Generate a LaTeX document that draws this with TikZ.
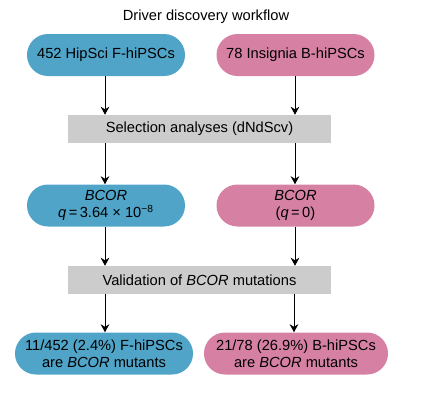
\documentclass[tikz,border=0pt]{standalone}
\usepackage{fontspec}
\setmainfont{Liberation Sans}
\usetikzlibrary{arrows.meta}
\definecolor{fblue}{HTML}{4FA4C8}
\definecolor{bpink}{HTML}{D681A4}
\definecolor{gbox}{HTML}{CCCCCC}
\begin{document}
\begin{tikzpicture}[x=0.75pt,y=-0.75pt,
  pill/.style={draw=none,minimum width=118.5pt,minimum height=31.5pt,rounded corners=15.7pt,inner sep=1pt,align=center,font=\fontsize{11}{12.6}\selectfont},
  graybox/.style={fill=gbox,draw=none,minimum width=197.25pt,minimum height=21pt,inner sep=1pt,font=\fontsize{11}{12.6}\selectfont},
  arr/.style={-{Stealth[length=6pt,width=6.5pt]},line width=0.7pt}]
\useasboundingbox (0,0) rectangle (425,401);
\node[font=\fontsize{11}{12.6}\selectfont] (title) at (206,17) {Driver discovery workflow};
\node[pill,fill=fblue] (a1) at (106,55) {452 HipSci F-hiPSCs};
\node[pill,fill=bpink] (a2) at (295.5,55) {78 Insignia B-hiPSCs};
\node[graybox] (g1) at (199.5,129) {Selection analyses (dNdScv)};
\node[pill,fill=fblue] (b1) at (106,205.5) {\textit{BCOR}\\\textit{q}\,=\,3.64 × 10\textsuperscript{−8}};
\node[pill,fill=bpink] (b2) at (295.5,205.5) {\textit{BCOR}\\(\textit{q}\,=\,0)};
\node[graybox] (g2) at (199.5,280) {Validation of \textit{BCOR} mutations};
\node[pill,fill=fblue,minimum width=133.5pt] (c1) at (104,353.5) {11/452 (2.4\%) F-hiPSCs\\are \textit{BCOR} mutants};
\node[pill,fill=bpink,minimum width=138pt] (c2) at (296,353.5) {21/78 (26.9\%) B-hiPSCs\\are \textit{BCOR} mutants};
\draw[arr] (a1.south -| 105,0) -- (105,0 |- g1.north);
\draw[arr] (a2.south -| 295,0) -- (295,0 |- g1.north);
\draw[arr] (g1.south -| 105,0) -- (105,0 |- b1.north);
\draw[arr] (g1.south -| 295,0) -- (295,0 |- b2.north);
\draw[arr] (b1.south -| 105,0) -- (105,0 |- g2.north);
\draw[arr] (b2.south -| 295,0) -- (295,0 |- g2.north);
\draw[arr] (g2.south -| 105,0) -- (105,0 |- c1.north);
\draw[arr] (g2.south -| 294,0) -- (294,0 |- c2.north);
\end{tikzpicture}
\end{document}
